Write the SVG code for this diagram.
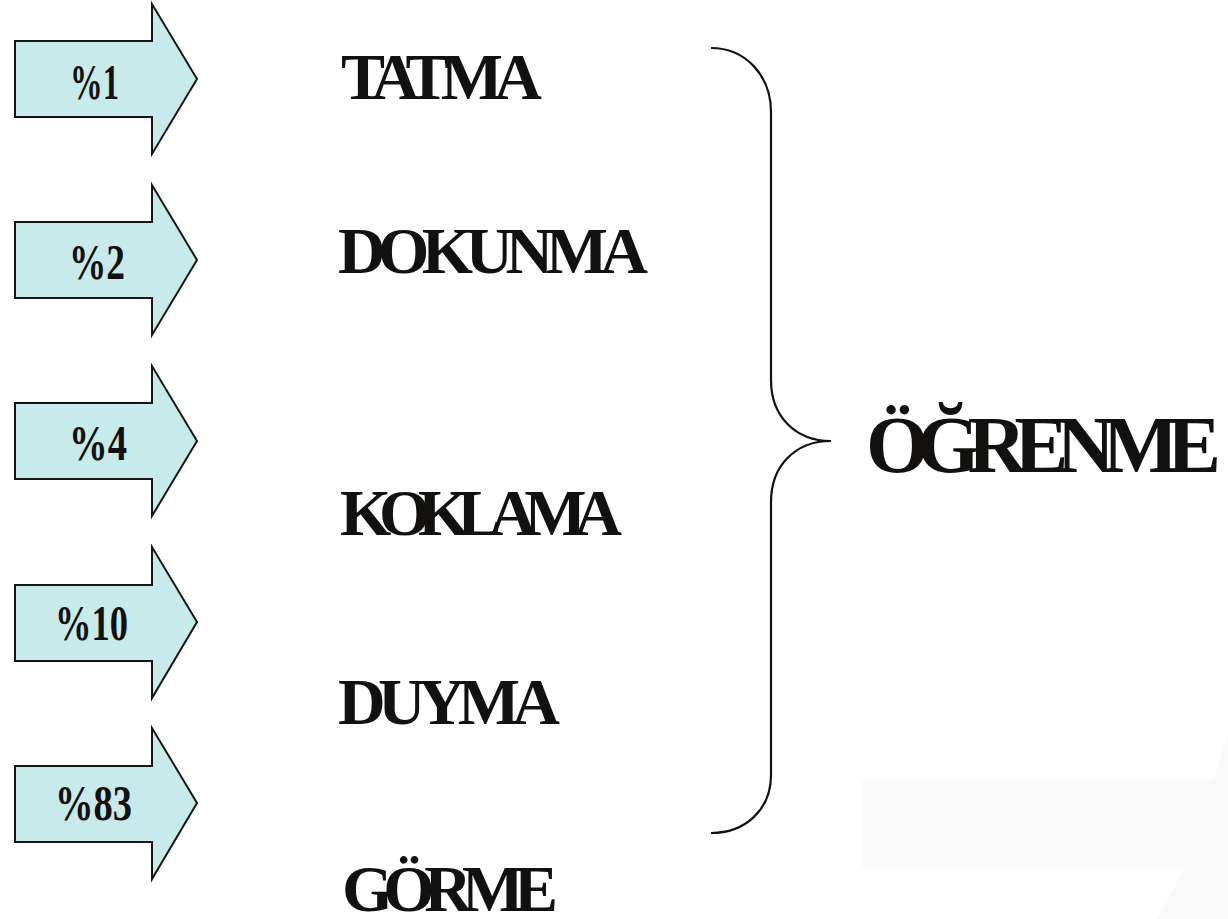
<svg xmlns="http://www.w3.org/2000/svg" width="1228" height="919" viewBox="0 0 1228 919">
  <style>
    .arrow { fill: #c9eaea; stroke: #151515; stroke-width: 2; stroke-linejoin: miter; }
    .pct { font-family: "Liberation Serif", "Times New Roman", serif; font-weight: bold; font-size: 51px; fill: #121110; }
    .lbl { font-family: "Liberation Serif", "Times New Roman", serif; font-weight: bold; font-size: 66px; fill: #121110; }
    .big { font-family: "Liberation Serif", "Times New Roman", serif; font-weight: bold; font-size: 81px; fill: #121110; }
    .brace { fill: none; stroke: #121110; stroke-width: 2.2; }
  </style>
  <rect width="1228" height="919" fill="#ffffff"/>
  <g id="faint-shape">
    <rect x="862" y="780" width="352" height="88" fill="#fafafa"/>
    <polygon points="1228,720 1228,919 1157,919 1185,868 1214,868 1214,780 1228,730" fill="#fafafa"/>
  </g>
  <g id="arrow-1">
    <polygon class="arrow" points="15,41 152,41 152,4 197,79 152,154 152,117 15,117"/>
    <text class="pct" x="70" y="99" textLength="49" lengthAdjust="spacingAndGlyphs">%1</text>
  </g>
  <g id="arrow-2">
    <polygon class="arrow" points="15,222 152,222 152,185 197,260 152,335 152,298 15,298"/>
    <text class="pct" x="69" y="279" textLength="56" lengthAdjust="spacingAndGlyphs">%2</text>
  </g>
  <g id="arrow-3">
    <polygon class="arrow" points="15,403 152,403 152,366 197,441 152,516 152,479 15,479"/>
    <text class="pct" x="69" y="460" textLength="58" lengthAdjust="spacingAndGlyphs">%4</text>
  </g>
  <g id="arrow-4">
    <polygon class="arrow" points="15,585 152,585 152,547 197,622 152,698 152,661 15,661"/>
    <text class="pct" x="55" y="640" textLength="73" lengthAdjust="spacingAndGlyphs">%10</text>
  </g>
  <g id="arrow-5">
    <polygon class="arrow" points="15,766 152,766 152,728 197,803 152,879 152,842 15,842"/>
    <text class="pct" x="55" y="820" textLength="77" lengthAdjust="spacingAndGlyphs">%83</text>
  </g>
  <g id="label-tatma"><text class="lbl" x="341" y="99" textLength="201" lengthAdjust="spacing">TATMA</text></g>
  <g id="label-dokunma"><text class="lbl" x="338" y="273" textLength="310" lengthAdjust="spacing">DOKUNMA</text></g>
  <g id="label-koklama"><text class="lbl" x="340" y="535" textLength="282" lengthAdjust="spacing">KOKLAMA</text></g>
  <g id="label-duyma"><text class="lbl" x="338" y="724" textLength="222" lengthAdjust="spacing">DUYMA</text></g>
  <g id="label-gorme"><text class="lbl" x="342" y="911" textLength="216" lengthAdjust="spacing">GÖRME</text></g>
  <g id="label-ogrenme"><text class="big" x="866" y="472" textLength="355" lengthAdjust="spacing">ÖĞRENME</text></g>
  <g id="connectors">
    <path class="brace" d="M711,48 C745,48 771,75 771,112 L771,380 C771,416 795,441 831,441 C795,441 771,466 771,502 L771,775 C771,810 745,833 711,833"/>
  </g>
</svg>
